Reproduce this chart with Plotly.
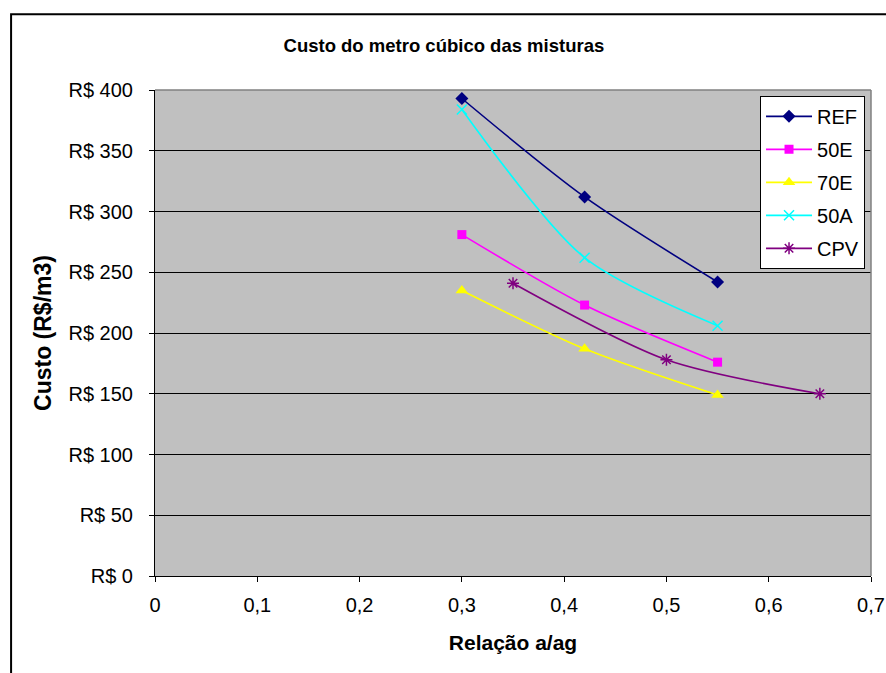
import plotly.graph_objects as go

# relação a/ag e custo (R$/m3) de cada mistura
x_ref = [0.30, 0.42, 0.55]
y_ref = [393, 312, 242]

x_50e = [0.30, 0.42, 0.55]
y_50e = [281, 223, 176]

x_70e = [0.30, 0.42, 0.55]
y_70e = [235, 187, 149]

x_50a = [0.30, 0.42, 0.55]
y_50a = [384, 262, 206]

x_cpv = [0.35, 0.50, 0.65]
y_cpv = [241, 178, 150]

y_ticks = [0, 50, 100, 150, 200, 250, 300, 350, 400]
y_labels = ["R$ " + str(v) for v in y_ticks]
x_ticks = [0, 0.1, 0.2, 0.3, 0.4, 0.5, 0.6, 0.7]
x_labels = ["0", "0,1", "0,2", "0,3", "0,4", "0,5", "0,6", "0,7"]

font_name = "Liberation Sans"

series = [
    ("REF", x_ref, y_ref, "#000080", dict(symbol="diamond", size=10, color="#000080")),
    ("50E", x_50e, y_50e, "#FF00FF", dict(symbol="square", size=9, color="#FF00FF")),
    ("70E", x_70e, y_70e, "#FFFF00", dict(symbol="triangle-up", size=11, color="#FFFF00")),
    ("50A", x_50a, y_50a, "#00FFFF", dict(symbol="x-thin", size=10, color="#00FFFF",
                                          line=dict(color="#00FFFF", width=1.5))),
    ("CPV", x_cpv, y_cpv, "#800080", dict(symbol="asterisk", size=10, color="#800080",
                                          line=dict(color="#800080", width=1.5))),
]

fig = go.Figure()
for i, (name, xs, ys, col, mk) in enumerate(series):
    fig.add_trace(go.Scatter(x=xs, y=ys, mode="lines+markers", name=name,
                             legendgroup=f"g{i}",
                             line=dict(color=col, width=1.6, shape="spline", smoothing=0.8),
                             marker=mk))

# moldura da área do gráfico e borda cinza da área de plotagem
fig.add_shape(type="rect", xref="paper", yref="paper", x0=-0.201, x1=1.03, y0=-0.22, y1=1.156,
              line=dict(color="black", width=2), layer="above")
fig.add_shape(type="line", xref="paper", yref="paper", x0=0, x1=1, y0=1, y1=1,
              line=dict(color="#808080", width=1.5), layer="above")
fig.add_shape(type="line", xref="paper", yref="paper", x0=1, x1=1, y0=0, y1=1,
              line=dict(color="#808080", width=1.5), layer="above")

fig.update_layout(
    autosize=False,
    width=886,
    height=673,
    margin=dict(l=155, r=15, t=90, b=97),
    paper_bgcolor="white",
    plot_bgcolor="#C0C0C0",
    font=dict(family=font_name, size=20, color="black"),
    title=dict(text="<b>Custo do metro cúbico das misturas</b>", x=0.501, xref="container",
               xanchor="center", y=0.933, yanchor="middle", font=dict(size=18.5)),
    legend=dict(x=0.845, y=0.988, xanchor="left", yanchor="top", bgcolor="white",
                bordercolor="black", borderwidth=1, font=dict(size=20),
                traceorder="grouped", tracegroupgap=4, itemwidth=46),
)
fig.update_xaxes(range=[0, 0.7], tickvals=x_ticks, ticktext=x_labels, showgrid=False,
                 showline=True, linecolor="black", linewidth=1, ticks="outside", ticklen=5,
                 tickcolor="black", zeroline=False, ticklabelstandoff=6, automargin=False,
                 ticklabeloverflow="allow",
                 title=dict(text="<b>Relação a/ag</b>", standoff=20, font=dict(size=21)))
fig.update_yaxes(range=[0, 400], tickvals=y_ticks, ticktext=y_labels, showgrid=True,
                 gridcolor="black", gridwidth=1, showline=True, linecolor="black", linewidth=1,
                 ticks="outside", ticklen=5, tickcolor="black", zeroline=False,
                 ticklabelstandoff=12, automargin=False,
                 title=dict(text="<b>Custo (R$/m3)</b>", standoff=10, font=dict(size=23)))

# sem a margem padrão do body, a figura fica alinhada ao canto da janela
fig.write_html("out.html",
               config={"responsive": False, "displayModeBar": False},
               post_script="document.body.style.margin='0';")
